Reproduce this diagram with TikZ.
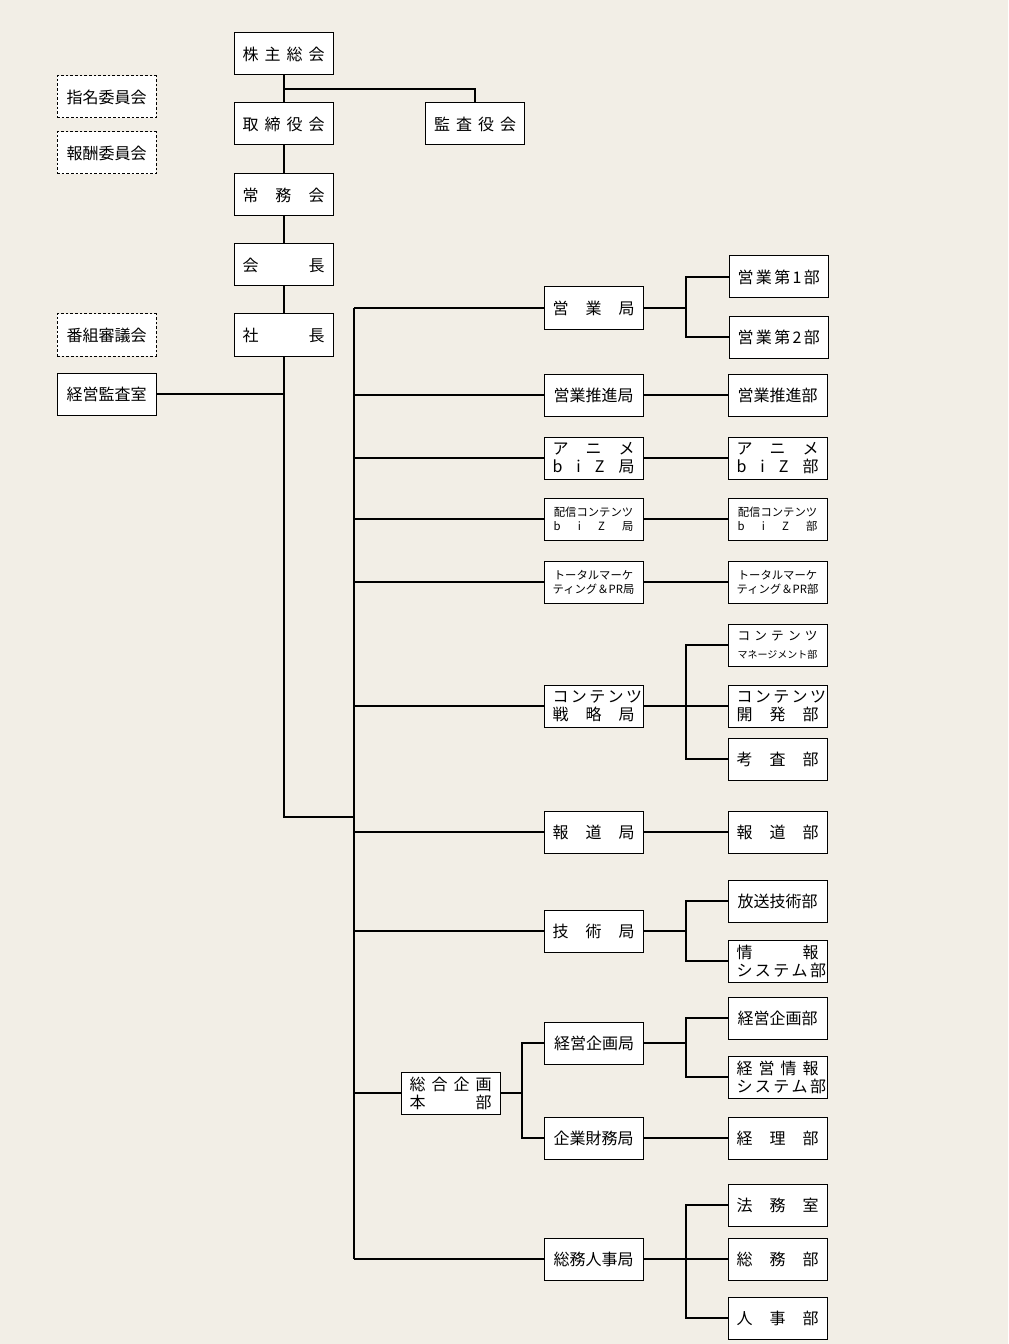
\documentclass[tikz,border=0pt]{standalone}
\usepackage{fontspec}
\newfontfamily\jpfont{Noto Sans CJK JP}
\usepackage{tikz}
\usetikzlibrary{calc}
\definecolor{paper}{RGB}{242,238,230}
\newcommand{\jfill}[2][61.5pt]{\makebox[#1][s]{#2}}

\begin{document}
\begin{tikzpicture}[x=0.75pt,y=-0.75pt,
    box/.style={draw,fill=white,line width=0.75pt,minimum width=74.25pt,minimum height=31.5pt,
      inner sep=0pt,align=center,font=\jpfont\fontsize{12}{13.5}\selectfont},
    dbox/.style={box,dash pattern=on 2pt off 1.5pt},
    small/.style={font=\jpfont\fontsize{8.5}{10.5}\selectfont},
    link/.style={line width=1.5pt}]
    \fill[paper] (0,0) rectangle (1008,1344);
    \coordinate (trunk) at (354,0);
    \coordinate (col) at (686,0);
    \coordinate (col2) at (522,0);
    \coordinate (hub) at (354,817);

    \node[box] (kabu) at (283.5,54) {\jfill{株 主 総 会}};
    \node[box] (tori) at (283.5,124) {\jfill{取 締 役 会}};
    \node[box] (kansa) at (475,124) {\jfill{監 査 役 会}};
    \node[box] (jomu) at (283.5,195) {\jfill{常 務 会}};
    \node[box] (kaicho) at (283.5,265) {\jfill{会 長}};
    \node[box] (shacho) at (283.5,335) {\jfill{社 長}};
    \node[dbox] (shimei) at (106.5,97) {指名委員会};
    \node[dbox] (hoshu) at (106.5,153) {報酬委員会};
    \node[dbox] (bangumi) at (106.5,335) {番組審議会};
    \node[box] (kansashitsu) at (106.5,394) {経営監査室};

    \node[box] (eig) at (593.5,308) {\jfill{営 業 局}};
    \node[box] (suishin) at (593.5,395) {営業推進局};
    \node[box] (anime) at (593.5,458) {\jfill{ア ニ メ}\\\jfill{b i Z 局}};
    \node[box,small] (haishin) at (593.5,519) {配信コンテンツ\\\jfill[60pt]{b i Z 局}};
    \node[box,small] (total) at (593.5,582) {トータルマーケ\\ティング＆PR局};
    \node[box] (cs) at (593.5,706) {\jfill{コ ン テ ン ツ}\\\jfill{戦 略 局}};
    \node[box] (hodo) at (593.5,832) {\jfill{報 道 局}};
    \node[box] (gijutsu) at (593.5,931) {\jfill{技 術 局}};
    \node[box] (sogo) at (450.5,1093) {\jfill{総 合 企 画}\\\jfill{本 部}};
    \node[box] (kikaku) at (594,1043) {経営企画局};
    \node[box] (zaimu) at (593.5,1138) {企業財務局};
    \node[box] (somu) at (593.5,1259) {総務人事局};

    \node[box] (bu1) at (778.5,277) {\jfill{営 業 第 1 部}};
    \node[box] (bu2) at (778.5,337) {\jfill{営 業 第 2 部}};
    \node[box] (suishinbu) at (777.5,395) {営業推進部};
    \node[box] (animebu) at (777.5,458) {\jfill{ア ニ メ}\\\jfill{b i Z 部}};
    \node[box,small] (haishinbu) at (777.5,519) {配信コンテンツ\\\jfill[60pt]{b i Z 部}};
    \node[box,small] (totalbu) at (777.5,582) {トータルマーケ\\ティング＆PR部};
    \node[box] (cmbu) at (777.5,645) {{\fontsize{9.5}{11}\selectfont\jfill[60pt]{コ ン テ ン ツ}}\\{\fontsize{7.5}{9}\selectfont マネージメント部}};
    \node[box] (cdbu) at (777.5,706) {\jfill{コ ン テ ン ツ}\\\jfill{開 発 部}};
    \node[box] (koubu) at (777.5,759) {\jfill{考 査 部}};
    \node[box] (hodobu) at (777.5,832) {\jfill{報 道 部}};
    \node[box] (hosobu) at (777.5,901) {放送技術部};
    \node[box] (johobu) at (777.5,961) {\jfill{情 報}\\\jfill{シ ス テ ム 部}};
    \node[box] (kikakubu) at (777.5,1018) {経営企画部};
    \node[box] (keijobu) at (777.5,1077) {\jfill{経 営 情 報}\\\jfill{シ ス テ ム 部}};
    \node[box] (keiribu) at (777.5,1138) {\jfill{経 理 部}};
    \node[box] (homu) at (777.5,1205) {\jfill{法 務 室}};
    \node[box] (somubu) at (777.5,1259) {\jfill{総 務 部}};
    \node[box] (jinji) at (777.5,1318) {\jfill{人 事 部}};

    \draw[link] (kabu) -- (tori) -- (jomu) -- (kaicho) -- (shacho);
    \draw[link] (kabu.south) ++(0,14) -| (kansa.north);
    \draw[link] (shacho.south) |- (hub);
    \draw[link] (kansashitsu.east) -- (kansashitsu.east -| shacho.south);
    \draw[link] (trunk |- eig.west) -- (trunk |- somu.west);
    \foreach \n in {eig,suishin,anime,haishin,total,cs,hodo,gijutsu,sogo,somu}
        \draw[link] (trunk |- \n.west) -- (\n.west);

    \draw[link] (eig.east) -- (col |- eig.east) (bu1.west) -| (col |- bu2.west) -- (bu2.west);
    \foreach \a/\b in {suishin/suishinbu,anime/animebu,haishin/haishinbu,total/totalbu,cs/cdbu,hodo/hodobu,zaimu/keiribu,somu/somubu}
        \draw[link] (\a.east) -- (\b.west);
    \draw[link] (cmbu.west) -| (col |- koubu.west) -- (koubu.west);
    \draw[link] (gijutsu.east) -- (col |- gijutsu.east) (hosobu.west) -| (col |- johobu.west) -- (johobu.west);
    \draw[link] (kikaku.east) -- (col |- kikaku.east) (kikakubu.west) -| (col |- keijobu.west) -- (keijobu.west);
    \draw[link] (sogo.east) -- (col2 |- sogo.east) (kikaku.west) -| (col2 |- zaimu.west) -- (zaimu.west);
    \draw[link] (homu.west) -| (col |- jinji.west) -- (jinji.west);
\end{tikzpicture}
\end{document}
